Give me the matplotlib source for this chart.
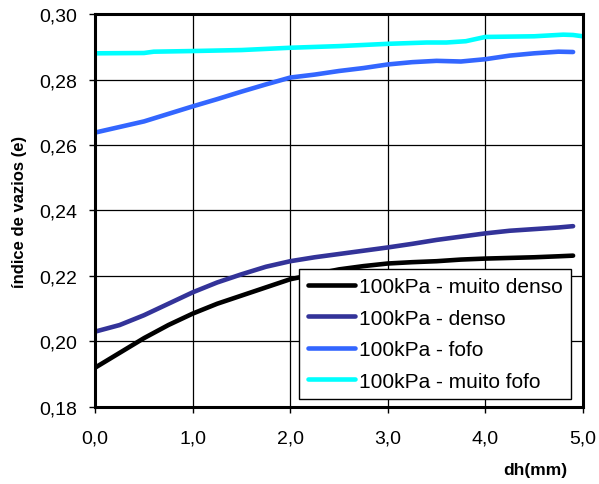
import matplotlib.pyplot as plt

plt.rcParams['font.family'] = ['Liberation Sans', 'DejaVu Sans']

# deslocamento horizontal (mm)
dh = [0.0, 0.25, 0.5, 0.75, 1.0, 1.25, 1.5, 1.75, 2.0, 2.25, 2.5, 2.75,
      3.0, 3.25, 3.5, 3.75, 4.0, 4.25, 4.5, 4.75, 4.9]
dh_mf = [0.0, 0.5, 0.6, 1.0, 1.5, 2.0, 2.5, 3.0, 3.4, 3.6, 3.8, 4.0,
         4.5, 4.8, 4.9, 5.0]

e_muito_denso = [0.192, 0.1965, 0.2010, 0.2050, 0.2085, 0.2115, 0.2140,
                 0.2165, 0.2190, 0.2205, 0.2220, 0.2230, 0.2238, 0.2242,
                 0.2245, 0.2250, 0.2253, 0.2255, 0.2257, 0.2260, 0.2262]
e_denso = [0.203, 0.2050, 0.2080, 0.2115, 0.2150, 0.2180, 0.2205, 0.2228,
           0.2245, 0.2257, 0.2267, 0.2277, 0.2287, 0.2298, 0.2310, 0.2320,
           0.2330, 0.2338, 0.2343, 0.2348, 0.2352]
e_fofo = [0.2638, 0.2655, 0.2672, 0.2695, 0.2718, 0.2740, 0.2763, 0.2785,
          0.2806, 0.2815, 0.2826, 0.2835, 0.2846, 0.2853, 0.2857, 0.2855,
          0.2862, 0.2873, 0.2880, 0.2885, 0.2884]
e_muito_fofo = [0.2880, 0.2881, 0.2885, 0.2887, 0.2890, 0.2897, 0.2902,
                0.2909, 0.2913, 0.2913, 0.2917, 0.2930, 0.2932, 0.2937,
                0.2936, 0.2932]

series = [
    ('100kPa - muito denso', dh, e_muito_denso, '#000000'),
    ('100kPa - denso', dh, e_denso, '#333399'),
    ('100kPa - fofo', dh, e_fofo, '#3366ff'),
    ('100kPa - muito fofo', dh_mf, e_muito_fofo, '#00ffff'),
]

fig = plt.figure(figsize=(5.99, 4.85), dpi=100)
ax = fig.add_axes([0.159, 0.159, 0.814, 0.810])

for label, x, y, c in series:
    ax.plot(x, y, color=c, lw=3.3, label=label, solid_capstyle='round')

ax.set_xlim(0, 5)
ax.set_ylim(0.18, 0.30)
ax.set_xticks([0, 1, 2, 3, 4, 5])
ax.set_yticks([0.18, 0.20, 0.22, 0.24, 0.26, 0.28, 0.30])
ax.set_xticklabels(['0,0', '1,0', '2,0', '3,0', '4,0', '5,0'])
ax.set_yticklabels(['0,18', '0,20', '0,22', '0,24', '0,26', '0,28', '0,30'])
ax.tick_params(labelsize=14, length=4, width=1, direction='out')
ax.tick_params(axis='x', pad=12)
ax.tick_params(axis='y', pad=9)
ax.grid(True, color='black', lw=0.9)
for s in ax.spines.values():
    s.set_linewidth(2.2)

ax.set_ylabel('índice de vazios (e)', fontsize=12, fontweight='bold',
              labelpad=9)
ax.text(0.969, -0.14, 'dh(mm)', transform=ax.transAxes, fontsize=12.5,
        fontweight='bold', ha='right', va='top')

leg = ax.legend(loc='lower right', bbox_to_anchor=(0.975, 0.02),
                fontsize=15, frameon=True, fancybox=False, framealpha=1,
                edgecolor='black', handlelength=2.3, handletextpad=0.15,
                labelspacing=0.6, borderpad=0.4, borderaxespad=0)
leg.get_frame().set_linewidth(1.0)

fig.savefig('out.png', dpi=100)
